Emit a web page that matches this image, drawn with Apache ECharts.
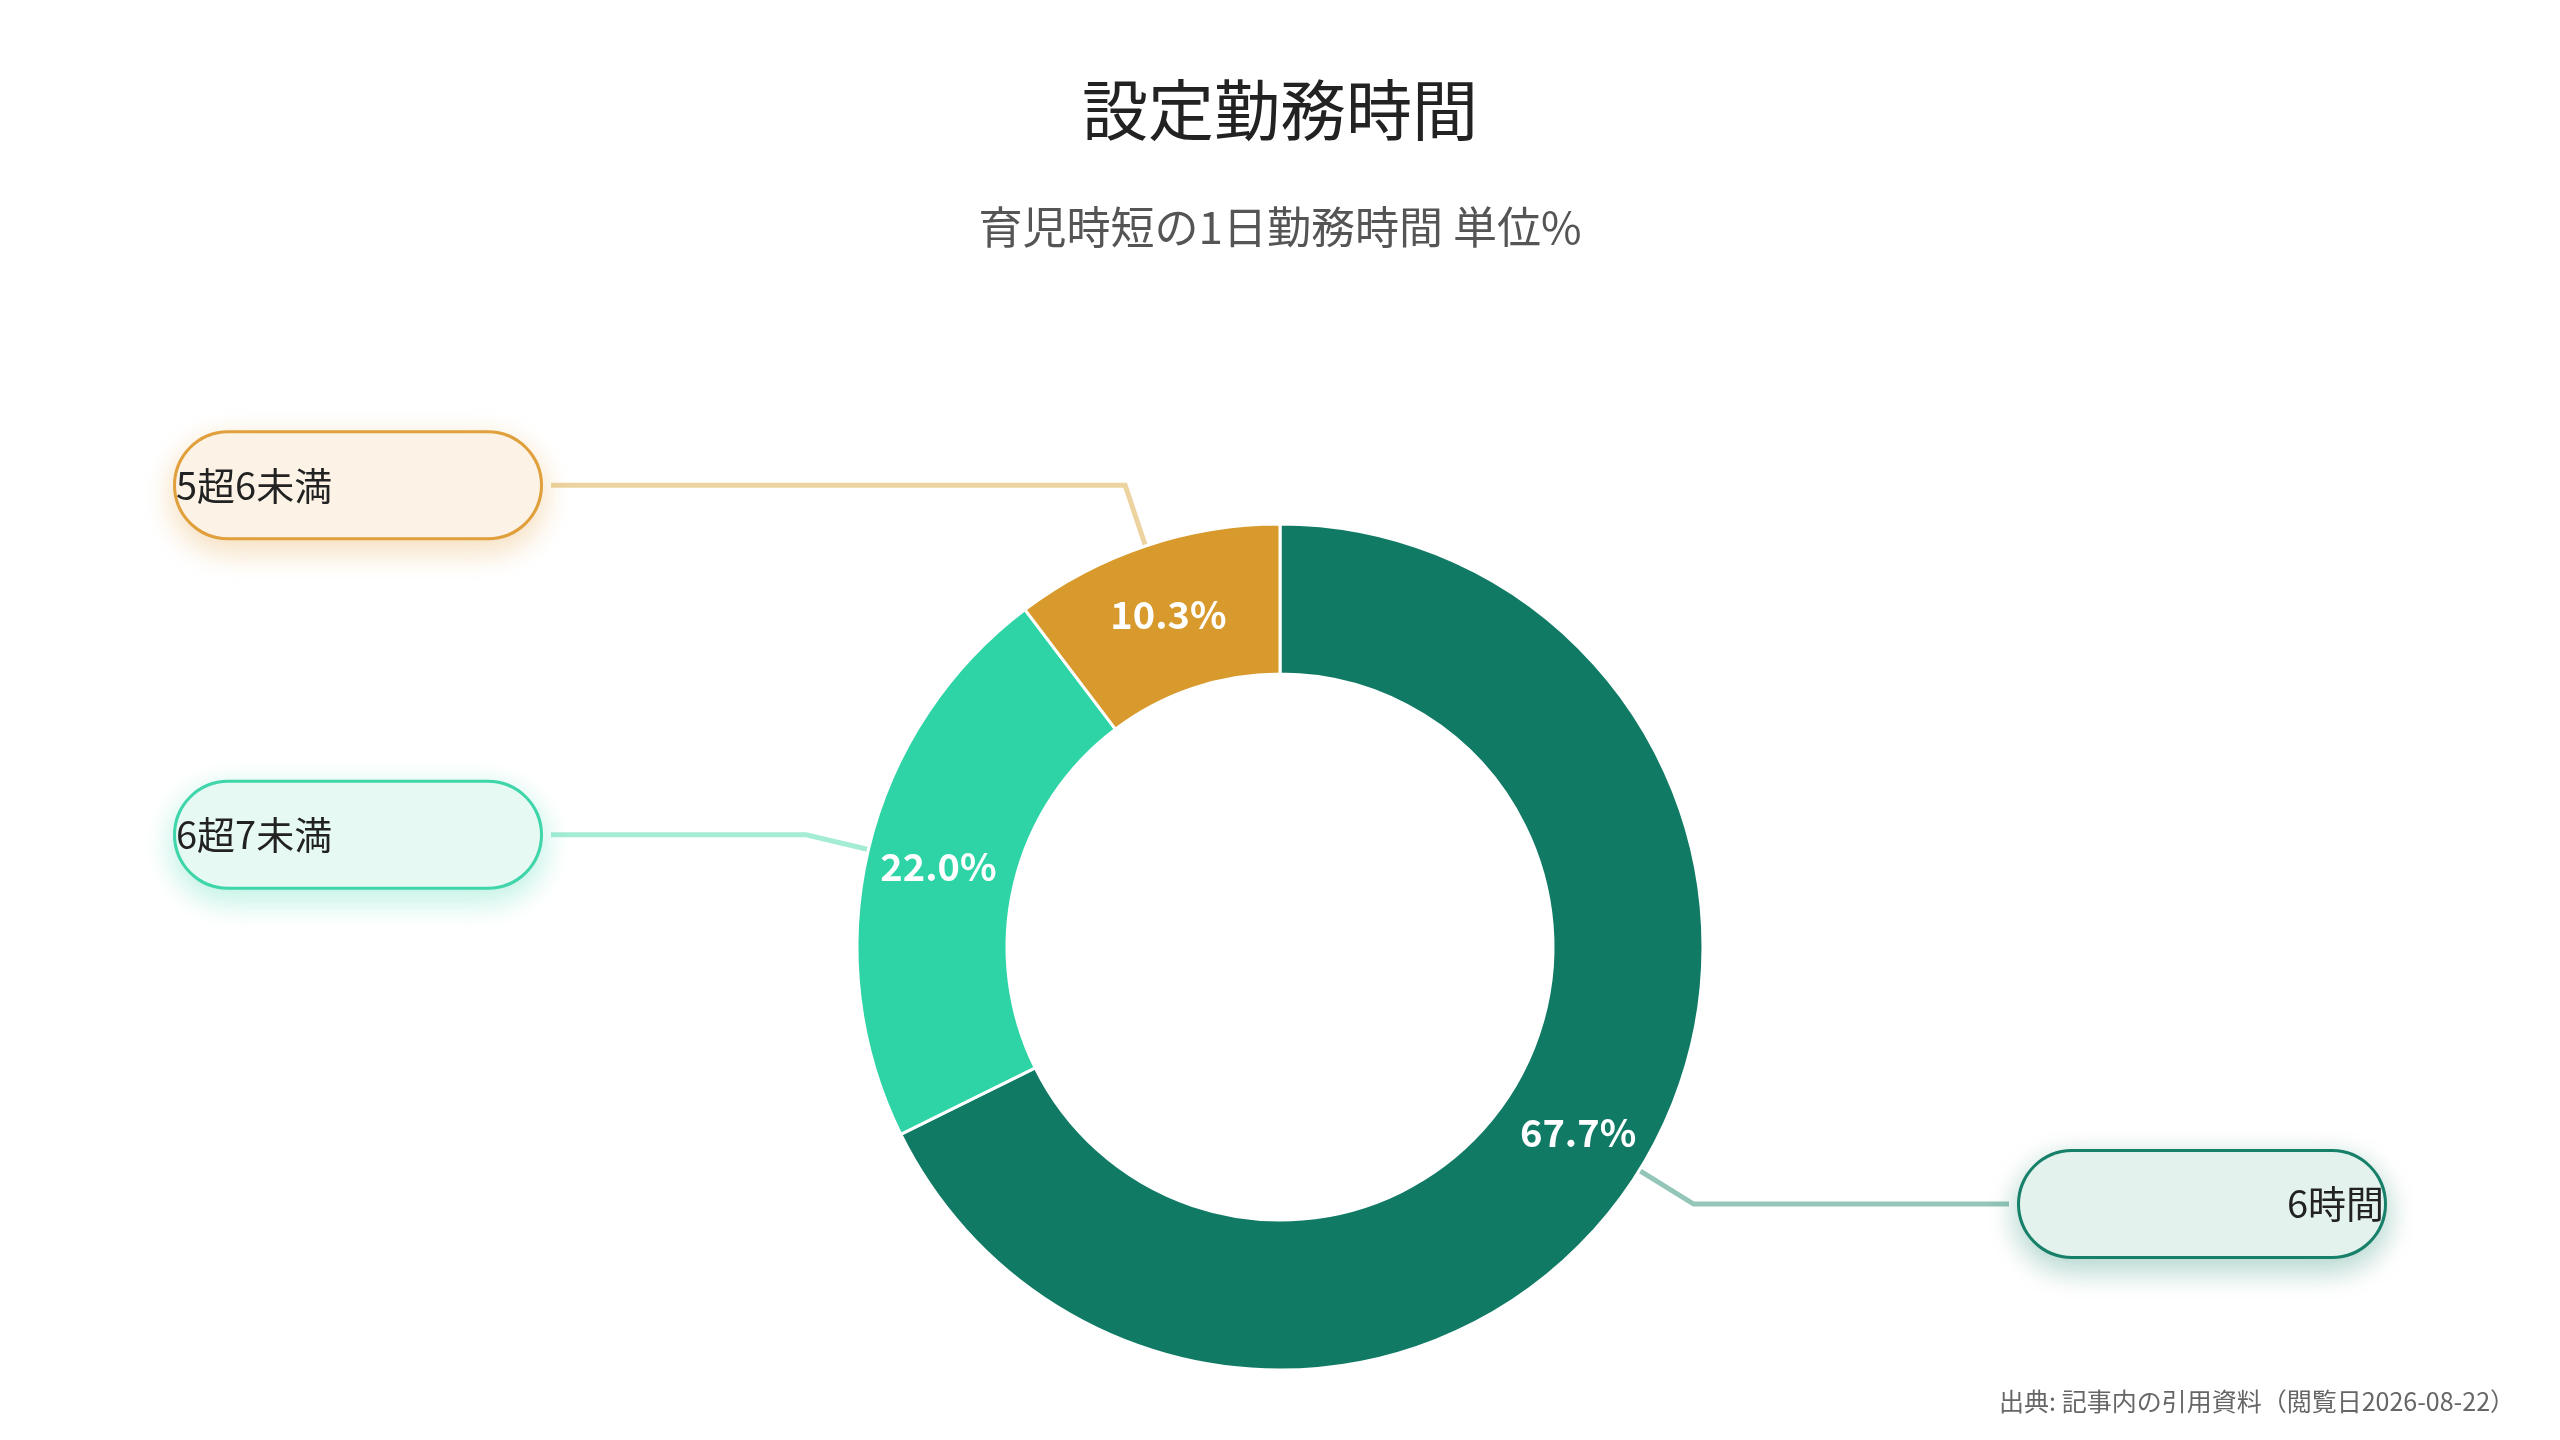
<!DOCTYPE html>
<html><head><meta charset="utf-8">
<script src="https://cdn.jsdelivr.net/npm/echarts@6/dist/echarts.min.js"></script>
<style>html,body{margin:0;padding:0;background:#fff}#c{width:2560px;height:1440px}</style>
</head><body><div id="c"></div>
<script>
const categories = ['6時間', '6超7未満', '5超6未満'];
const values = [67.7, 22.0, 10.3];
const colors = ['#107a65', '#2ed4a6', '#d89a2c'];
const boxBg = ['#e4f2ee', '#e6f9f2', '#fcf3e6'];
const boxBorder = ['#178069', '#3fd6aa', '#e0a03c'];
const lineColors = ['#93c5b8', '#a5ecd5', '#ecd3a0'];
const title = '設定勤務時間';
const subtitle = '育児時短の1日勤務時間 単位%';
const source = '出典: 記事内の引用資料（閲覧日2026-08-22）';

const font = '"Noto Sans CJK JP", "Noto Sans", sans-serif';
const chart = echarts.init(document.getElementById('c'));
const inner = categories.map((n, i) => ({ name: n, value: values[i], itemStyle: { color: colors[i] } }));
const outer = categories.map((n, i) => ({
  name: n, value: values[i],
  itemStyle: { color: 'rgba(0,0,0,0)', borderWidth: 0 },
  label: { backgroundColor: boxBg[i], borderColor: boxBorder[i], shadowColor: boxBorder[i] + '55' },
  labelLine: { lineStyle: { color: lineColors[i] } }
}));
chart.setOption({
  animation: false,
  title: [
    { text: title, left: 'center', top: 72, textStyle: { fontFamily: font, fontSize: 66, fontWeight: 'normal', color: '#222' } },
    { text: subtitle, left: 'center', top: 200, textStyle: { fontFamily: font, fontSize: 44, fontWeight: 'normal', color: '#555' } },
    { text: source, right: 40, top: 1384, textStyle: { fontFamily: font, fontSize: 25, fontWeight: 'normal', color: '#666' } }
  ],
  series: [
    {
      type: 'pie', center: [1280, 947], radius: [273, 423], startAngle: 90, clockwise: true,
      data: inner, silent: true,
      itemStyle: { borderColor: '#fff', borderWidth: 3 },
      label: { position: 'inside', formatter: p => p.value.toFixed(1) + '%', color: '#fff', fontFamily: font, fontSize: 38, fontWeight: 'bold' },
      labelLine: { show: false }
    },
    {
      type: 'pie', center: [1280, 947], radius: [273, 423], startAngle: 90, clockwise: true,
      data: outer, silent: true,
      label: {
        show: true, position: 'outside', alignTo: 'edge', edgeDistance: 176,
        formatter: '{b}', fontFamily: font, fontSize: 38, color: '#222',
        width: 364, height: 104, lineHeight: 104, align: 'center',
        borderWidth: 3, borderRadius: 52, shadowBlur: 30, shadowOffsetY: 10
      },
      labelLine: { show: true, length: 64, length2: 30, lineStyle: { width: 5 } }
    }
  ]
});
</script></body></html>
